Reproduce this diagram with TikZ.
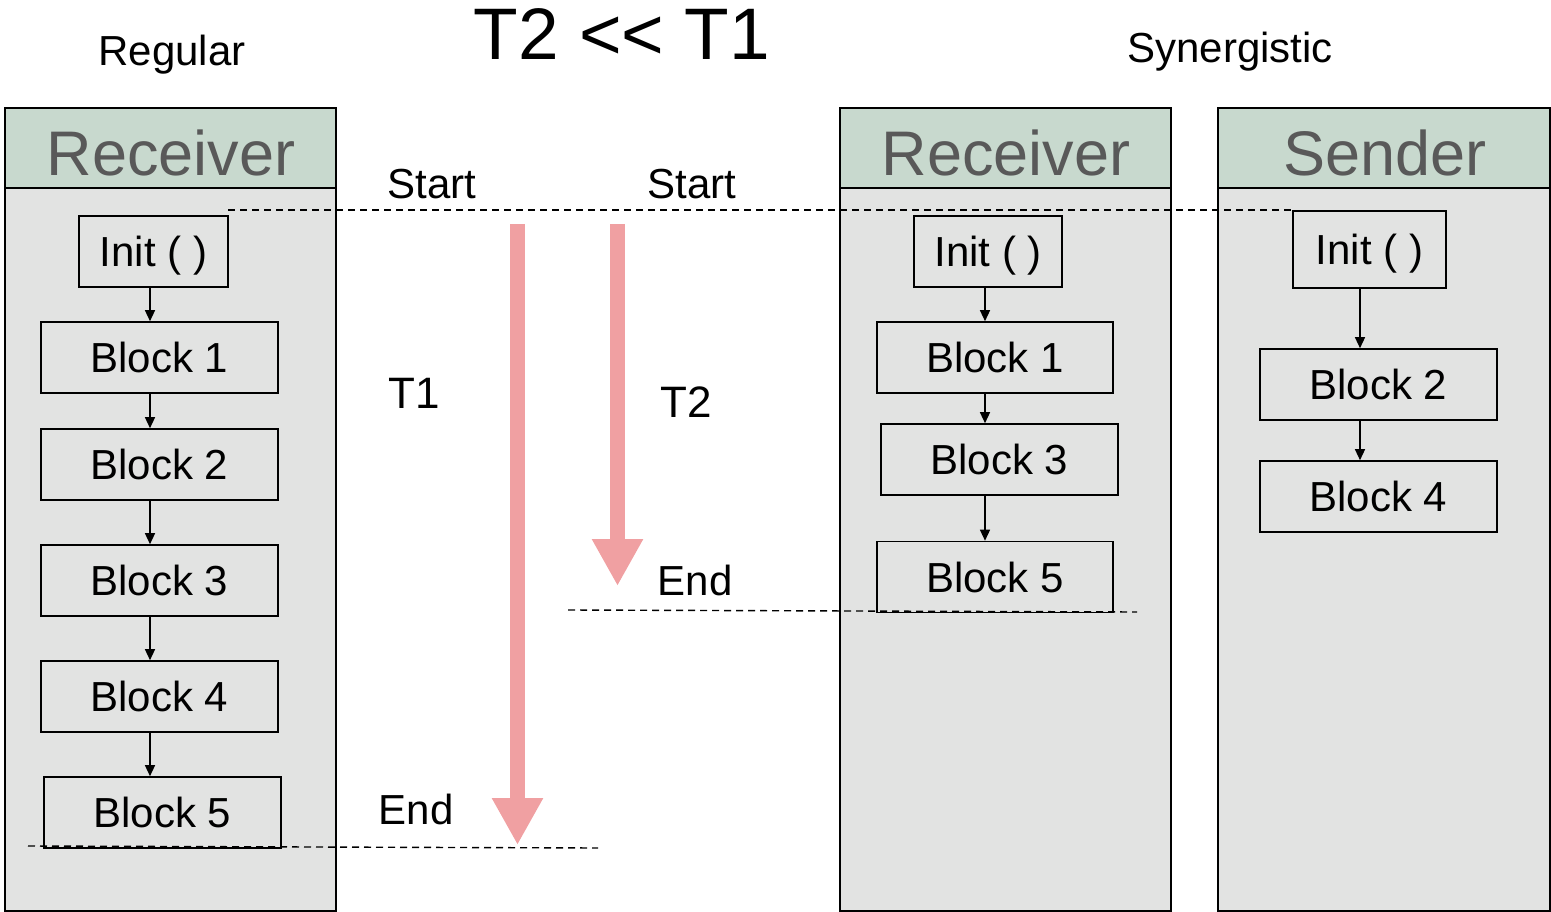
\documentclass[tikz,border=0pt]{standalone}
\usepackage{fontspec}
\setmainfont{Liberation Sans}
\usetikzlibrary{arrows.meta}
\definecolor{headfill}{HTML}{C8D9CE}
\definecolor{bodyfill}{HTML}{E2E3E2}
\definecolor{headtext}{HTML}{595959}
\definecolor{flowpink}{HTML}{F0A0A2}
\tikzset{
  lbl/.style={font=\fontsize{42}{50}\selectfont, inner sep=0pt, anchor=base},
  head/.style={font=\fontsize{63}{70}\selectfont, text=headtext, inner sep=0pt, anchor=base},
  blk/.style={draw=black, line width=1.6pt, fill=bodyfill, minimum height=71pt, inner sep=0pt,
              text height=30pt, text depth=0pt, font=\fontsize{42}{50}\selectfont},
  flow/.style={line width=1.4pt, -{Triangle[length=11pt,width=10pt]}},
  col/.style={draw=black, line width=1.8pt, fill=bodyfill},
  colhead/.style={draw=black, line width=1.8pt, fill=headfill},
  timeline/.style={dashed, dash pattern=on 7pt off 5pt, line width=1.4pt},
  bigarrow/.style={draw=flowpink, line width=15pt, -{Triangle[length=47pt,width=48pt]}}
}
\begin{document}
\begin{tikzpicture}[x=1pt,y=-1pt]
\useasboundingbox (0,0) rectangle (1551,912);

% column panels
\draw[col] (5,108) rectangle (336,911);
\draw[colhead] (5,108) rectangle (336,188);
\draw[col] (840,108) rectangle (1171,911);
\draw[colhead] (840,108) rectangle (1171,188);
\draw[col] (1218,108) rectangle (1550,911);
\draw[colhead] (1218,108) rectangle (1550,188);

\node[head] (hrecv1) at (171,176) {Receiver};
\node[head] (hrecv2) at (1006,176) {Receiver};
\node[head] (hsend) at (1385,176) {Sender};

% titles
\node[lbl] (tregular) at (172,66) {Regular};
\node[lbl, font=\fontsize{73}{80}\selectfont] (ttitle) at (622,60) {T2 <\kern0pt< T1};
\node[lbl] (tsyn) at (1230,63) {Synergistic};

% regular receiver chain
\node[blk, minimum width=149pt] (li) at (153.5,251.5) {Init ( )};
\node[blk, minimum width=237pt] (lb1) at (159.5,357.5) {Block 1};
\node[blk, minimum width=237pt] (lb2) at (159.5,464.5) {Block 2};
\node[blk, minimum width=237pt] (lb3) at (159.5,580.5) {Block 3};
\node[blk, minimum width=237pt] (lb4) at (159.5,696.5) {Block 4};
\node[blk, minimum width=237pt] (lb5) at (162.5,812.5) {Block 5};
\coordinate (lx) at (150,0);
\draw[flow] (li.south -| lx) -- (lb1.north -| lx);
\draw[flow] (lb1.south -| lx) -- (lb2.north -| lx);
\draw[flow] (lb2.south -| lx) -- (lb3.north -| lx);
\draw[flow] (lb3.south -| lx) -- (lb4.north -| lx);
\draw[flow] (lb4.south -| lx) -- (lb5.north -| lx);

% synergistic receiver chain
\node[blk, minimum width=148pt] (mi) at (988,251.5) {Init ( )};
\node[blk, minimum width=236pt] (mb1) at (995,357.5) {Block 1};
\node[blk, minimum width=237pt] (mb3) at (999.5,459.5) {Block 3};
\node[blk, minimum width=236pt] (mb5) at (995,577) {Block 5};
\coordinate (mx) at (985,0);
\draw[flow] (mi.south -| mx) -- (mb1.north -| mx);
\draw[flow] (mb1.south -| mx) -- (mb3.north -| mx);
\draw[flow] (mb3.south -| mx) -- (mb5.north -| mx);

% synergistic sender chain
\node[blk, minimum width=153pt, minimum height=77pt] (si) at (1369.5,249.5) {Init ( )};
\node[blk, minimum width=237pt] (sb2) at (1378.5,384.5) {Block 2};
\node[blk, minimum width=237pt] (sb4) at (1378.5,496.5) {Block 4};
\coordinate (sx) at (1360,0);
\draw[flow] (si.south -| sx) -- (sb2.north -| sx);
\draw[flow] (sb2.south -| sx) -- (sb4.north -| sx);

% start / end marker lines
\coordinate (startL) at (228,210);
\draw[timeline] (startL) -- (si.north west |- startL);
\coordinate (endT2a) at (568,610);
\coordinate (endT2b) at (1137,612);
\draw[timeline] (endT2a) -- (endT2b);
\coordinate (endT1a) at (28,846);
\coordinate (endT1b) at (598,848);
\draw[timeline] (endT1a) -- (endT1b);

% elapsed-time arrows
\coordinate (t1top) at (517.5,224);
\coordinate (t1tip) at (517.5,845);
\draw[bigarrow] (t1top) -- (t1tip);
\coordinate (t2top) at (617.5,224);
\coordinate (t2tip) at (617.5,586);
\draw[bigarrow] (t2top) -- (t2tip);

% annotations
\node[lbl] (lstart1) at (432,199) {Start};
\node[lbl] (lstart2) at (692,199) {Start};
\node[lbl, font=\fontsize{44}{50}\selectfont] (lt1) at (414,408) {T1};
\node[lbl, font=\fontsize{44}{50}\selectfont] (lt2) at (686,417) {T2};
\node[lbl] (lend2) at (695,595) {End};
\node[lbl] (lend1) at (416,824) {End};
\end{tikzpicture}
\end{document}
